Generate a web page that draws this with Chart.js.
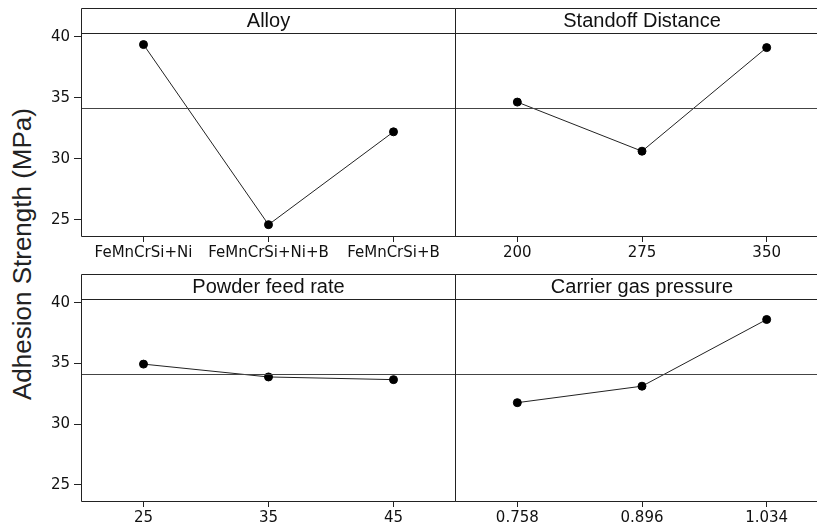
<!DOCTYPE html>
<html>
<head>
<meta charset="utf-8">
<title>Main effects plot - Adhesion Strength</title>
<script src="https://cdn.jsdelivr.net/npm/chart.js@4/dist/chart.umd.min.js"></script>
<style>
body{margin:0;background:#fff;width:817px;height:530px;overflow:hidden;position:relative}
canvas{position:absolute}
#yTitle{position:absolute;left:22px;top:254px;transform:translate(-50%,-50%) rotate(-90deg);
  font:26px "Liberation Sans", Arial, sans-serif;color:#222;white-space:nowrap}
</style>
</head>
<body>
<div id="yTitle">Adhesion Strength (MPa)</div>
<canvas id="alloyChart" width="456" height="265" style="left:0;top:0"></canvas>
<canvas id="standoffChart" width="374" height="265" style="left:455px;top:0"></canvas>
<canvas id="feedChart" width="456" height="265" style="left:0;top:265px"></canvas>
<canvas id="gasChart" width="374" height="265" style="left:455px;top:265px"></canvas>
<script>
// === DATA ===
const alloyLevels = ['FeMnCrSi+Ni', 'FeMnCrSi+Ni+B', 'FeMnCrSi+B'];
const alloyMeans = [39.37, 24.59, 32.21];
const standoffLevels = ['200', '275', '350'];
const standoffMeans = [34.65, 30.62, 39.12];
const feedLevels = ['25', '35', '45'];
const feedMeans = [34.95, 33.89, 33.67];
const gasLevels = ['0.758', '0.896', '1.034'];
const gasMeans = [31.77, 33.13, 38.63];
const grandMean = 34.15;
const yTicks = [25, 30, 35, 40];
const yMin = 23.66, yMax = 40.32;

const TICK_FONT = {family: '"DejaVu Sans", Verdana, sans-serif', size: 15};
const STRIP_H = 25;

// === PANEL FRAME PLUGIN (box, title strip, mean line) ===
const panelFrame = {
    id: 'panelFrame',
    afterDatasetsDraw(chart, args, opts){
        const {ctx, chartArea:a} = chart;
        const y = chart.scales.y;
        const top = a.top - STRIP_H;
        ctx.save();
        // mean line
        ctx.strokeStyle = '#444';
        ctx.lineWidth = 1;
        ctx.beginPath();
        const my = Math.round(y.getPixelForValue(grandMean)) + 0.5;
        ctx.moveTo(a.left, my); ctx.lineTo(a.right, my);
        ctx.stroke();
        // box + strip
        ctx.strokeStyle = '#222';
        ctx.beginPath();
        ctx.rect(a.left + 0.5, top + 0.5, a.right - a.left - 1, a.bottom - top);
        ctx.moveTo(a.left, a.top + 0.5); ctx.lineTo(a.right, a.top + 0.5);
        ctx.stroke();
        // title
        ctx.fillStyle = '#111';
        ctx.font = '20px "Liberation Sans", Arial, sans-serif';
        ctx.textAlign = 'center';
        ctx.textBaseline = 'middle';
        ctx.fillText(opts.title, (a.left + a.right)/2, top + STRIP_H/2 + 1);
        ctx.restore();
    }
};

function makePanel(id, title, labels, values, showY, padTop){
    const ctx = document.getElementById(id).getContext('2d');
    return new Chart(ctx, {
        type: 'line',
        data: {labels, datasets: [{
            data: values,
            borderColor: '#222', borderWidth: 1,
            pointBackgroundColor: '#000', pointBorderColor: '#000',
            pointRadius: 4, tension: 0, fill: false
        }]},
        options: {
            responsive: false, animation: false, devicePixelRatio: 1,
            layout: {autoPadding: false, padding: {top: padTop, left: 0, right: 0, bottom: 0}},
            plugins: {legend: {display: false}, tooltip: {enabled: false}, panelFrame: {title}},
            scales: {
                x: {
                    type: 'category', offset: true,
                    grid: {display: true, offset: false, drawOnChartArea: false, drawTicks: true, tickLength: 6, color: '#222'},
                    border: {display: false},
                    ticks: {font: TICK_FONT, color: '#111', padding: 2, maxRotation: 0, autoSkip: false},
                    afterFit: s => { s.height = 29; s.paddingLeft = 0; s.paddingRight = 0; }
                },
                y: {
                    display: showY, min: yMin, max: yMax,
                    afterBuildTicks: s => { s.ticks = yTicks.map(v => ({value: v})); },
                    grid: {display: true, drawOnChartArea: false, drawTicks: true, tickLength: 7, color: '#222'},
                    border: {display: false},
                    ticks: {font: TICK_FONT, color: '#111', padding: 4},
                    afterFit: s => { s.width = showY ? 81 : 0; s.paddingTop = 0; s.paddingBottom = 0; }
                }
            }
        },
        plugins: [panelFrame]
    });
}

makePanel('alloyChart', 'Alloy', alloyLevels, alloyMeans, true, 33);
makePanel('standoffChart', 'Standoff Distance', standoffLevels, standoffMeans, false, 33);
makePanel('feedChart', 'Powder feed rate', feedLevels, feedMeans, true, 34);
makePanel('gasChart', 'Carrier gas pressure', gasLevels, gasMeans, false, 34);
</script>
</body>
</html>
